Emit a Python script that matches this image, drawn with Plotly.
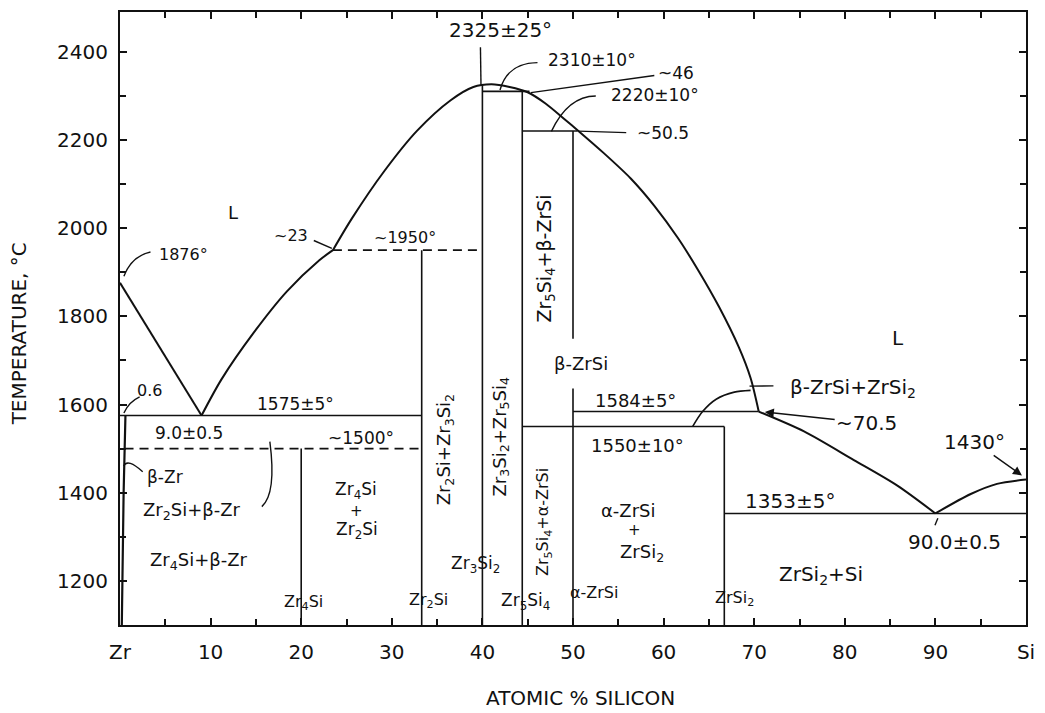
import plotly.graph_objects as go

# ---------------- data (atomic % Si, temperature °C) ----------------
liq_zr_x = [0.0, 9.0]
liq_zr_T = [1876, 1575]

# Zr-rich side of the Zr2Si liquidus (eutectic 9.0 -> peritectic ~23)
liq_a_x = [9.0, 11.2, 14.8, 18.4, 22.0, 23.5]
liq_a_T = [1575, 1657, 1764, 1856, 1927, 1950]

# dome up to the 2325° maximum and down to the ~70.5 eutectic
liq_b_x = [23.5, 25.6, 29.2, 32.8, 36.5, 39.0, 41.0, 43.0, 45.0, 47.0, 49.0, 50.5,
           53.4, 56.4, 59.0, 61.6, 63.8, 66.1, 68.3, 69.6, 70.5]
liq_b_T = [1950, 2022, 2130, 2221, 2290, 2320, 2326, 2320, 2308, 2282, 2248, 2222,
           2170, 2112, 2050, 1977, 1905, 1822, 1730, 1660, 1584]

liq_si_left_x = [70.5, 75.5, 81.0, 85.8, 90.0]
liq_si_left_T = [1584, 1539, 1474, 1416, 1353]

liq_si_x = [90.0, 93.9, 96.8, 100.0]
liq_si_T = [1353, 1397, 1420, 1430]

arc_x = [63.2, 64.3, 65.8, 67.8, 69.6]
arc_T = [1550, 1584, 1612, 1628, 1632]

solvus_x = [0.6, 0.4, 0.2]
solvus_T = [1575, 1400, 1100]

compound_x = [20.0, 33.3, 40.0, 44.4, 50.0, 50.0, 66.7]
compound_Tlo = [1100, 1100, 1100, 1100, 1100, 1749, 1100]
compound_Thi = [1500, 1950, 2326, 2310, 1636, 2220, 1550]

iso_T = [1575, 2310, 2220, 1550, 1584, 1353]
iso_x0 = [0.0, 40.0, 44.4, 44.4, 50.0, 66.7]
iso_x1 = [33.3, 45.2, 50.5, 66.7, 70.5, 100.0]

dash_T = [1950, 1500]
dash_x0 = [23.5, 0.5]
dash_x1 = [40.0, 33.3]

x_tickvals = [0, 10, 20, 30, 40, 50, 60, 70, 80, 90, 100]
x_ticktext = ["Zr", "10", "20", "30", "40", "50", "60", "70", "80", "90", "Si"]
y_tickvals = [1200, 1400, 1600, 1800, 2000, 2200, 2400]

FONT = "DejaVu Sans"
BLACK = "#111111"


def ref(px, py):
    """place a label relative to the drawing (reference-frame pixel -> data)"""
    x = (px - 118) / 9.09 - (625 - py) * 0.0016
    T = 2400 - (py - 51) / 0.4417 + (px - 118) * 0.0215
    return x, T


fig = go.Figure()


def add_line(xs, ys, width=2.0, dash="solid", shape="linear"):
    fig.add_trace(go.Scatter(x=xs, y=ys, mode="lines", hoverinfo="skip",
                             line=dict(color=BLACK, width=width, dash=dash, shape=shape,
                                       smoothing=0.8),
                             showlegend=False))


add_line(liq_zr_x, liq_zr_T, 2.0)
add_line(liq_a_x, liq_a_T, 2.0, shape="spline")
add_line(liq_b_x, liq_b_T, 2.0, shape="spline")
add_line(liq_si_left_x, liq_si_left_T, 2.0, shape="spline")
add_line(liq_si_x, liq_si_T, 2.0, shape="spline")
add_line(arc_x, arc_T, 1.6, shape="spline")
add_line(solvus_x, solvus_T, 2.2)

for cx, lo, hi in zip(compound_x, compound_Tlo, compound_Thi):
    add_line([cx, cx], [lo, hi], 1.6)
for T, a, b in zip(iso_T, iso_x0, iso_x1):
    add_line([a, b], [T, T], 1.6)
for T, a, b in zip(dash_T, dash_x0, dash_x1):
    add_line([a, b], [T, T], 1.6, dash="9px,6px")

# ---------------- labels ----------------
labels = [
    ("2325±25°", 508, 33, 20, 0),
    ("2310±10°", 600, 64, 17, 0),
    ("~46", 684, 78, 17, 0),
    ("2220±10°", 662, 100, 17, 0),
    ("~50.5", 670, 138, 17, 0),
    ("L", 237, 213, 18, 0),
    ("1876°", 187, 255, 16, 0),
    ("~23", 295, 237, 16, 0),
    ("~1950°", 410, 240, 16, 0),
    ("1575±5°", 297, 406, 17, 0),
    ("0.6", 151, 391, 16, 0),
    ("9.0±0.5", 190, 434, 17, 0),
    ("~1500°", 362, 440, 17, 0),
    ("β-Zr", 165, 477, 17, 0),
    ("Zr<sub>2</sub>Si+β-Zr", 192, 512, 18, 0),
    ("Zr<sub>4</sub>Si+β-Zr", 198, 562, 18, 0),
    ("Zr<sub>4</sub>Si", 302, 604, 16, 0),
    ("Zr<sub>4</sub>Si", 357, 493, 17, 0),
    ("+", 357, 513, 15, 0),
    ("Zr<sub>2</sub>Si", 357, 533, 17, 0),
    ("Zr<sub>2</sub>Si", 428, 604, 16, 0),
    ("Zr<sub>2</sub>Si+Zr<sub>3</sub>Si<sub>2</sub>", 447, 453, 18, -90),
    ("Zr<sub>3</sub>Si<sub>2</sub>", 476, 568, 17, 0),
    ("Zr<sub>3</sub>Si<sub>2</sub>+Zr<sub>5</sub>Si<sub>4</sub>", 503, 440, 18, -90),
    ("Zr<sub>5</sub>Si<sub>4</sub>", 525, 606, 17, 0),
    ("Zr<sub>5</sub>Si<sub>4</sub>+α-ZrSi", 545, 526, 16, -90),
    ("α-ZrSi", 594, 597, 16, 0),
    ("Zr<sub>5</sub>Si<sub>4</sub>+β-ZrSi", 550, 262, 19, -90),
    ("β-ZrSi", 584, 368, 18, 0),
    ("1584±5°", 638, 405, 18, 0),
    ("1550±10°", 640, 450, 18, 0),
    ("α-ZrSi", 630, 515, 18, 0),
    ("+", 636, 535, 15, 0),
    ("ZrSi<sub>2</sub>", 643, 558, 18, 0),
    ("ZrSi<sub>2</sub>", 735, 605, 16, 0),
    ("β-ZrSi+ZrSi<sub>2</sub>", 857, 395, 20, 0),
    ("L", 903, 345, 20, 0),
    ("1353±5°", 792, 507, 20, 0),
    ("90.0±0.5", 956, 550, 20, 0),
    ("ZrSi<sub>2</sub>+Si", 822, 582, 20, 0),
]

annotations = []
for text, px, py, size, ang in labels:
    x, T = ref(px, py)
    annotations.append(dict(x=x, y=T, xref="x", yref="y", text=text, showarrow=False,
                            textangle=ang, font=dict(family=FONT, size=size, color=BLACK),
                            xanchor="center", yanchor="middle"))

# labels carrying an arrowhead
arrow_labels = [
    ("~70.5", 870, 430, 768, 418, 20),
    ("1430°", 978, 450, 1025, 484, 20),
]
for text, px, py, hx, hy, size in arrow_labels:
    x, T = ref(px, py)
    hx_, hT = ref(hx, hy)
    annotations.append(dict(x=hx_, y=hT, ax=x, ay=T, xref="x", yref="y", axref="x", ayref="y",
                            text=text, showarrow=True, arrowhead=2, arrowsize=1.2,
                            arrowwidth=1.5, arrowcolor=BLACK, standoff=0,
                            font=dict(family=FONT, size=size, color=BLACK)))

# axis titles
annotations.append(dict(x=0.508, y=-0.119, xref="paper", yref="paper",
                        xanchor="center", yanchor="middle",
                        text="ATOMIC % SILICON", showarrow=False,
                        font=dict(family=FONT, size=20, color=BLACK)))
annotations.append(dict(x=-0.112, y=0.475, xref="paper", yref="paper",
                        xanchor="center", yanchor="middle",
                        text="TEMPERATURE, °C", showarrow=False, textangle=-90,
                        font=dict(family=FONT, size=20, color=BLACK)))

# leader lines
shapes = []
straight = [
    (488, 50, 488, 88),
    (662, 80, 538, 96),
    (633, 137, 585, 135),
    (318, 242, 336, 250),
    (753, 392, 777, 392),
    (940, 526, 937, 533),
]
for a, b, c, d in straight:
    x0, y0 = ref(a, b)
    x1, y1 = ref(c, d)
    shapes.append(dict(type="line", x0=x0, y0=y0, x1=x1, y1=y1, xref="x", yref="y",
                       line=dict(color=BLACK, width=1.4)))

curved = [
    (545, 66, 515, 66, 507, 93),
    (603, 100, 575, 100, 558, 135),
    (154, 252, 135, 256, 127, 276),
    (141, 397, 130, 402, 125, 413),
    (143, 472, 128, 458, 124, 466),
    (262, 508, 277, 495, 271, 443),
]
for a, b, c, d, e, f in curved:
    x0, y0 = ref(a, b)
    cx, cy = ref(c, d)
    x1, y1 = ref(e, f)
    shapes.append(dict(type="path", path=f"M {x0},{y0} Q {cx},{cy} {x1},{y1}",
                       xref="x", yref="y", line=dict(color=BLACK, width=1.4)))

fig.update_layout(
    width=1045, height=713,
    margin=dict(l=120, r=17, t=10, b=88),
    paper_bgcolor="white", plot_bgcolor="white",
    annotations=annotations, shapes=shapes,
    showlegend=False,
    xaxis=dict(range=[0, 100], tickmode="array", tickvals=x_tickvals, ticktext=x_ticktext,
               ticks="inside", ticklen=7, tickwidth=1.5, tickcolor=BLACK,
               minor=dict(tickmode="linear", tick0=0, dtick=5, ticks="inside", ticklen=6,
                          tickwidth=1.5, tickcolor=BLACK, showgrid=False),
               showline=True, linewidth=2.2, linecolor=BLACK, mirror="allticks",
               showgrid=False, zeroline=False, ticklabelstandoff=8,
               tickfont=dict(family=FONT, size=20, color=BLACK)),
    yaxis=dict(range=[1100, 2490], tickmode="array", tickvals=y_tickvals,
               ticks="inside", ticklen=7, tickwidth=1.5, tickcolor=BLACK,
               minor=dict(tickmode="linear", tick0=1100, dtick=100, ticks="inside", ticklen=6,
                          tickwidth=1.5, tickcolor=BLACK, showgrid=False),
               showline=True, linewidth=2.2, linecolor=BLACK, mirror="allticks",
               showgrid=False, zeroline=False, ticklabelstandoff=6,
               tickfont=dict(family=FONT, size=20, color=BLACK)),
)

fig.write_html("out.html")
